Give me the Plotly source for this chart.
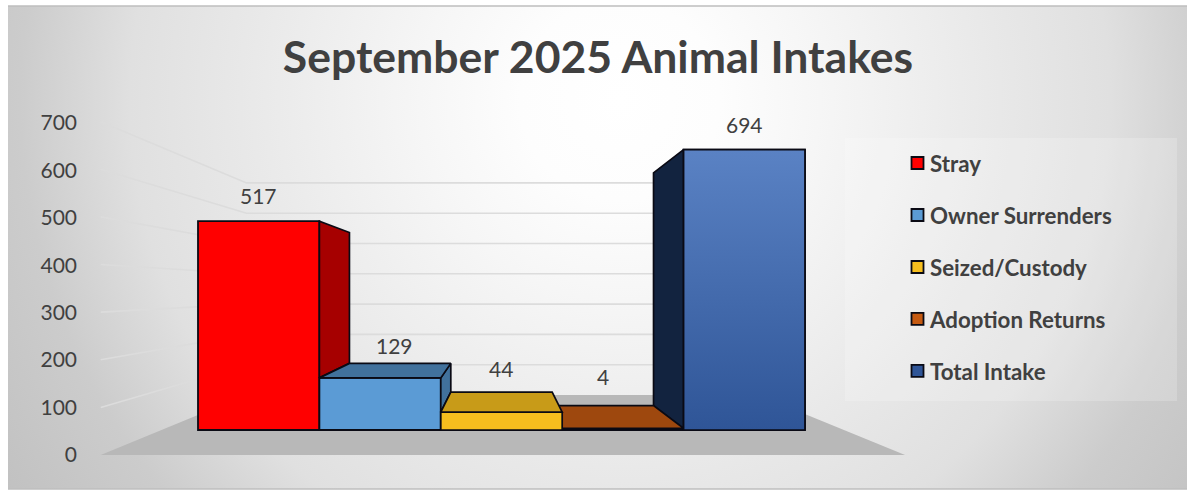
import plotly.graph_objects as go

# ---- data ----
title = "September 2025 Animal Intakes"
categories = ["Stray", "Owner Surrenders", "Seized/Custody", "Adoption Returns", "Total Intake"]
values = [517, 129, 44, 4, 694]
axis_ticks = [0, 100, 200, 300, 400, 500, 600, 700]

# ---- style ----
front_colors = ["#FF0000", "#5B9BD5", "#F6BE1E", "#C55A11", "#2F5597"]
depth_colors = ["#A60000", "#41719C", "#C89B18", "#9E480E", "#12233F"]
edge = "#0A0A14"
text_color = "#404040"
font = "Lato"
W, H = 1187, 490
label_xshift = [0, 14.5, 0, -20, 0]
label_yshift = [26, 32, 44, 52, 25]

# oblique perspective: depth z scales a point towards a vanishing point
VAN_C, VAN_V = 2.0, 346.5
BACK, FLOOR_FRONT, FLOOR_BACK = 0.835, 1.179, 0.75
FLOOR_L, FLOOR_R = -0.80, 4.82


def proj(c, v, s):
    return VAN_C + (c - VAN_C) * s, VAN_V + (v - VAN_V) * s


def poly(points, s_list):
    xs, ys = [], []
    for (c, v), s in zip(points, s_list):
        x, y = proj(c, v, s)
        xs.append(x)
        ys.append(y)
    return xs + xs[:1], ys + ys[:1]


fig = go.Figure()

# background (own subplot in pixel-like units)
bx0, bx1, by0, by1 = 8, 1187, 489, 6
cx, cy, hw, hh = 620, 100, 1000, 1000
fig.add_trace(go.Scatter(
    x=[cx - hw, cx + hw, cx + hw, cx - hw, cx - hw],
    y=[cy - hh, cy - hh, cy + hh, cy + hh, cy - hh],
    mode="lines", line=dict(width=0), fill="toself",
    fillgradient=dict(type="radial", colorscale=[
        [0, "rgb(255,255,255)"], [0.1, "rgb(253,253,253)"], [0.2, "rgb(246,246,246)"],
        [0.38, "rgb(232,232,232)"], [0.49, "rgb(224,224,224)"], [0.6, "rgb(204,204,204)"],
        [1, "rgb(170,170,170)"]]),
    hoverinfo="skip", showlegend=False, xaxis="x", yaxis="y"))

# floor and walls
fx, fy = poly([(FLOOR_L, 0), (FLOOR_R, 0), (FLOOR_R, 0), (FLOOR_L, 0)],
              [FLOOR_FRONT, FLOOR_FRONT, FLOOR_BACK, FLOOR_BACK])
for t in axis_ticks[1:]:
    gx, gy = [], []
    for c, s in [(FLOOR_L, FLOOR_FRONT), (FLOOR_L, FLOOR_BACK), (FLOOR_R, FLOOR_BACK)]:
        x, y = proj(c, t, s)
        gx.append(x)
        gy.append(y)
    fig.add_trace(go.Scatter(x=gx, y=gy, mode="lines", line=dict(color="#DCDCDC", width=1.6),
                             hoverinfo="skip", showlegend=False, xaxis="x2", yaxis="y2"))
fig.add_trace(go.Scatter(x=fx, y=fy, mode="lines", line=dict(width=0), fill="toself",
                         fillcolor="#B8B8B8", hoverinfo="skip", showlegend=False,
                         xaxis="x2", yaxis="y2"))

# real bars (front faces, legend)
for i, (name, v) in enumerate(zip(categories, values)):
    fig.add_trace(go.Bar(x=[i], y=[v], width=1, name=name, legendgroup=name,
                         marker=dict(color=front_colors[i], line=dict(color=edge, width=1.8)),
                         xaxis="x3", yaxis="y3", hovertemplate=name + ": %{y}<extra></extra>"))


def face(points, scales, color, gradient=None):
    xs, ys = poly(points, scales)
    kw = dict(fillgradient=gradient) if gradient else dict(fillcolor=color)
    fig.add_trace(go.Scatter(x=xs, y=ys, mode="lines", line=dict(color=edge, width=1.7),
                             fill="toself", hoverinfo="skip", showlegend=False,
                             xaxis="x3", yaxis="y3", **kw))


def top(i):
    v = values[i]
    face([(i - .5, v), (i + .5, v), (i + .5, v), (i - .5, v)], [1, 1, BACK, BACK], depth_colors[i])


# stray: right side down to its neighbour's height
face([(0.5, values[1]), (0.5, values[0]), (0.5, values[0]), (0.5, values[1])],
     [1, 1, BACK, BACK], depth_colors[0])
# owner surrenders: top and right side
face([(1.5, values[2]), (1.5, values[1]), (1.5, values[1]), (1.5, values[2])],
     [1, 1, BACK, BACK], depth_colors[1])
top(1)
# total intake: left side
face([(3.5, values[3]), (3.5, values[4]), (3.5, values[4]), (3.5, values[3])],
     [1, 1, BACK, BACK], depth_colors[4])
# adoption returns top, then seized top and front over it
top(3)
top(2)
face([(1.5, 0), (2.5, 0), (2.5, values[2]), (1.5, values[2])], [1, 1, 1, 1], front_colors[2])
# total front with a gradient
face([(3.5, 0), (4.5, 0), (4.5, values[4]), (3.5, values[4])], [1, 1, 1, 1], front_colors[4],
     gradient=dict(type="vertical", colorscale=[[0, "#2F5597"], [1, "#5A82C4"]]))

# tick axis carrier
fig.add_trace(go.Scatter(x=[0, 0], y=[axis_ticks[0], axis_ticks[-1]], mode="markers",
                         marker=dict(opacity=0), hoverinfo="skip", showlegend=False,
                         xaxis="x3", yaxis="y4"))

annotations = [dict(x=i, y=v, xref="x3", yref="y3", text=str(v), showarrow=False,
                    xshift=label_xshift[i], yshift=label_yshift[i], yanchor="middle",
                    font=dict(family=font, size=21, color=text_color))
               for i, v in enumerate(values)]

hidden = dict(visible=False, fixedrange=True)
fig.update_layout(
    width=W, height=H, margin=dict(l=0, r=0, t=0, b=0),
    paper_bgcolor="white", plot_bgcolor="rgba(0,0,0,0)", barmode="overlay",
    title=dict(text=title, x=598 / W, xanchor="center", y=1 - 57 / H, yanchor="middle",
               font=dict(family=font, size=44.5, color=text_color, weight=700)),
    xaxis=dict(hidden, domain=[bx0 / W, bx1 / W], range=[bx0, bx1], anchor="y"),
    yaxis=dict(hidden, domain=[1 - by0 / H, 1 - by1 / H], range=[by0, by1], anchor="x"),
    xaxis2=dict(hidden, range=[-2.131, 7.647], anchor="y2"),
    yaxis2=dict(hidden, range=[-148.5, 1064.4], anchor="x2"),
    xaxis3=dict(hidden, range=[-2.131, 7.647], anchor="y3"),
    yaxis3=dict(hidden, range=[-148.5, 1064.4], anchor="x3"),
    yaxis4=dict(overlaying="y3", anchor="free", position=77 / W, side="left",
                range=[-73.8, 959.3], tickvals=axis_ticks, ticklen=0, showline=False,
                showgrid=False, zeroline=False, fixedrange=True,
                tickfont=dict(family=font, size=21, color=text_color)),
    legend=dict(x=897 / W, y=1 - 142 / H, xanchor="left", yanchor="top", bgcolor="rgba(0,0,0,0)",
                tracegroupgap=20, indentation=-7,
                font=dict(family=font, size=22.3, color=text_color, weight=700),
                itemclick=False, itemdoubleclick=False),
    shapes=[
        dict(type="rect", xref="paper", yref="paper", x0=845 / W, x1=1177 / W,
             y0=1 - 401 / H, y1=1 - 138 / H, fillcolor="rgba(255,255,255,0.2)",
             line=dict(width=0), layer="above"),
        dict(type="line", xref="paper", yref="paper", x0=bx0 / W, x1=1,
             y0=1 - by1 / H, y1=1 - by1 / H, line=dict(color="#BEBEBE", width=1.5), layer="above"),
        dict(type="line", xref="paper", yref="paper", x0=bx0 / W, x1=1,
             y0=1 - by0 / H, y1=1 - by0 / H, line=dict(color="#BEBEBE", width=1.5), layer="above"),
    ],
    annotations=annotations,
    showlegend=True,
)
fig.write_html("out.html", config=dict(displayModeBar=False),
               post_script="document.body.style.margin='0';"
                           "document.querySelectorAll('.legend .legendsymbols')"
                           ".forEach(function(g){g.setAttribute('transform','translate(7.5,0)');});")
